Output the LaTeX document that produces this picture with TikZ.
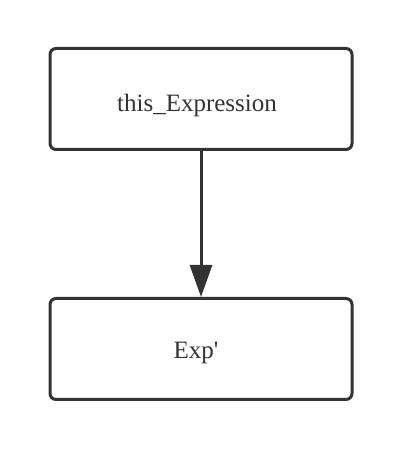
\documentclass[tikz,border=0pt]{standalone}
\usepackage{fontspec}
\setmainfont{Liberation Serif}
\usetikzlibrary{arrows.meta}
\definecolor{ink}{HTML}{333333}
\begin{document}
\begin{tikzpicture}[x=1pt,y=1pt,
  box/.style={draw=ink, line width=3pt, rounded corners=6pt, minimum width=302pt, minimum height=101pt, inner sep=0pt},
  lbl/.style={text=ink, font=\fontsize{25}{29}\selectfont, anchor=base, inner sep=0pt},
  conn/.style={draw=ink, line width=3pt, -{Triangle[length=32pt,width=22pt]}}]
\useasboundingbox (0,0) rectangle (402,450);
\fill[white] (0,0) rectangle (402,450);
\node[box] (a) at (201,351) {};
\node[box] (b) at (201,101) {};
\node[lbl] (ta) at (197,338) {this\_Expression};
\node[lbl] (tb) at (196,91) {Exp\textquotesingle};
\draw[conn] (a) -- (b);
\end{tikzpicture}
\end{document}
